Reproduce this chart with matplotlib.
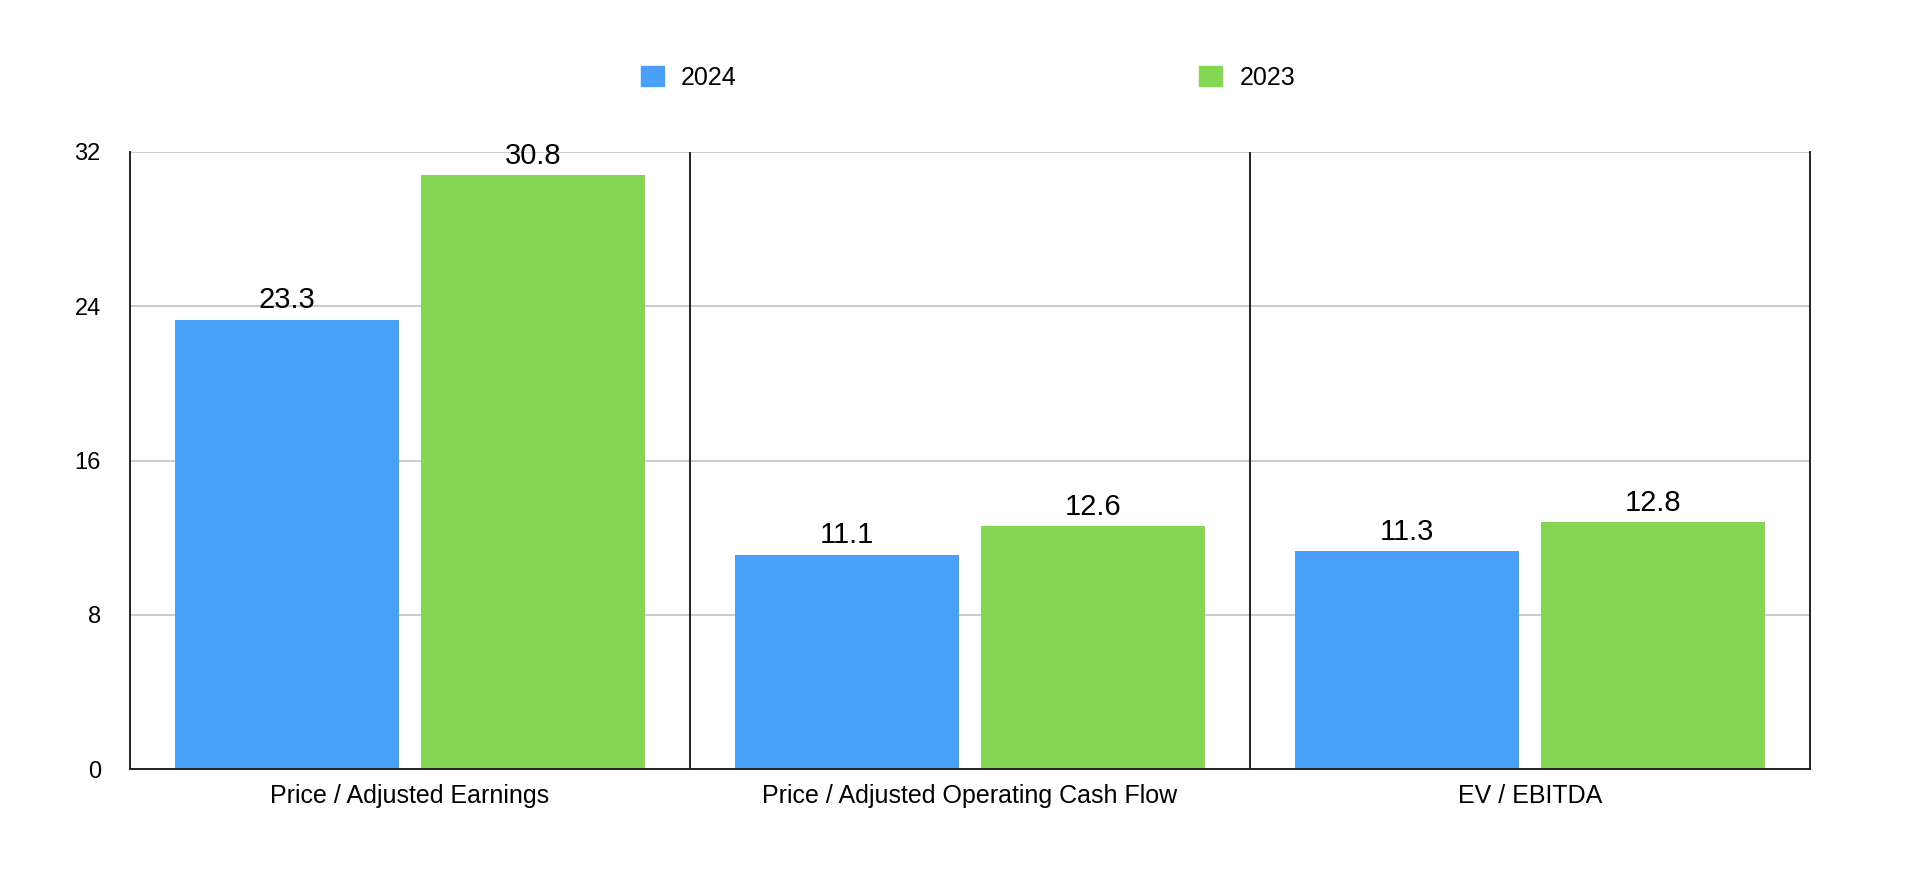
import numpy as np
import matplotlib
matplotlib.use("Agg")
import matplotlib.pyplot as plt
from matplotlib.patches import Patch

plt.rcParams["font.family"] = ["Liberation Sans", "DejaVu Sans"]

categories = ["Price / Adjusted Earnings", "Price / Adjusted Operating Cash Flow", "EV / EBITDA"]
series_names = ["2024", "2023"]
values_2024 = [23.3, 11.1, 11.3]
values_2023 = [30.8, 12.6, 12.8]
y_ticks = [0, 8, 16, 24, 32]

blue = "#4A9FF6"
green = "#84D654"

fig = plt.figure(figsize=(19.06, 8.76), dpi=100)
ax = fig.add_axes([0.0682, 0.1221, 0.8814, 0.7044])

x = np.arange(len(categories))
w = 0.4
b1 = ax.bar(x - 0.22, values_2024, width=w, color=blue, zorder=3)
b2 = ax.bar(x + 0.22, values_2023, width=w, color=green, zorder=3)

# value labels above each bar
for bars, vals in ((b1, values_2024), (b2, values_2023)):
    for rect, v in zip(bars, vals):
        ax.annotate(f"{v:.1f}", (rect.get_x() + rect.get_width() / 2, v),
                    xytext=(0, 4), textcoords="offset points",
                    ha="center", va="bottom", fontsize=21)

ax.set_xlim(-0.5, len(categories) - 0.5)
ax.set_ylim(0, 32)
ax.set_yticks(y_ticks)
ax.set_xticks(x)
ax.set_xticklabels(categories)
ax.tick_params(axis="y", length=0, pad=21, labelsize=17)
ax.tick_params(axis="x", length=0, pad=11, labelsize=18)

ax.grid(axis="y", color="#bdbdbd", linewidth=1.1, zorder=0)
for sep in x[:-1] + 0.5:
    ax.axvline(sep, color="#222222", linewidth=1.4, zorder=4)

ax.spines["top"].set_visible(False)
for s in ("left", "right", "bottom"):
    ax.spines[s].set_color("#222222")
    ax.spines[s].set_linewidth(1.4)
    ax.spines[s].set_zorder(5)

handles = [Patch(color=blue), Patch(color=green)]
fig.legend(handles, series_names, loc="center", bbox_to_anchor=(0.508, 0.9115),
           ncol=2, frameon=False, fontsize=18, handlelength=0.9, handleheight=0.9,
           handletextpad=0.7, columnspacing=18.5)

fig.savefig("out.png", dpi=100)
